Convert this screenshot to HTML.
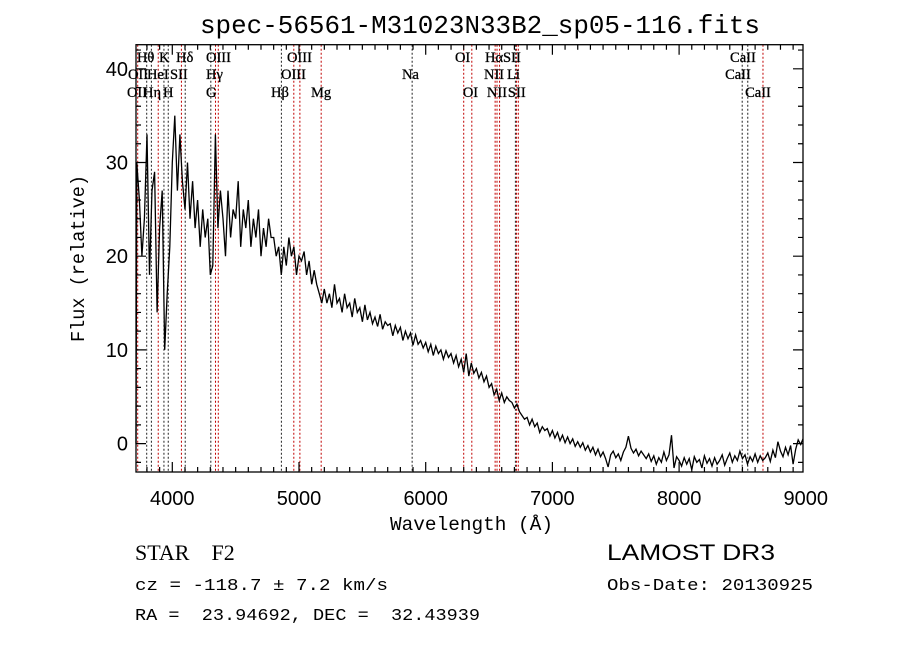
<!DOCTYPE html>
<html><head><meta charset="utf-8"><style>
body{margin:0;background:#fff;}
svg{display:block;}
text{white-space:pre;}
</style></head><body>
<svg id="chart" width="900" height="649" viewBox="0 0 900 649" xmlns="http://www.w3.org/2000/svg">
<rect width="900" height="649" fill="#fff"/>
<text x="200" y="33" textLength="560" lengthAdjust="spacingAndGlyphs" font-family="Liberation Mono, monospace" font-size="26">spec-56561-M31023N33B2_sp05-116.fits</text>
<g id="lines"></g>
<g id="spec"></g>
<g id="axes"></g>
<g id="labels" font-family="Liberation Serif, serif" font-size="14.5" stroke="#000" stroke-width="0.3"></g>
<text x="390" y="530" textLength="163" lengthAdjust="spacingAndGlyphs" font-family="Liberation Mono, monospace" font-size="19">Wavelength (Å)</text>
<text transform="translate(84,342) rotate(-90)" textLength="167" lengthAdjust="spacingAndGlyphs" font-family="Liberation Mono, monospace" font-size="19">Flux (relative)</text>
<text x="135" y="560" font-family="Liberation Serif, serif" font-size="22">STAR    F2</text>
<text x="135" y="590" textLength="253" lengthAdjust="spacingAndGlyphs" font-family="Liberation Mono, monospace" font-size="17">cz = -118.7 ± 7.2 km/s</text>
<text x="135" y="620" textLength="345" lengthAdjust="spacingAndGlyphs" font-family="Liberation Mono, monospace" font-size="17">RA =  23.94692, DEC =  32.43939</text>
<text x="607" y="560" textLength="168" lengthAdjust="spacingAndGlyphs" font-family="Liberation Sans, sans-serif" font-size="22">LAMOST DR3</text>
<text x="607" y="590" textLength="206" lengthAdjust="spacingAndGlyphs" font-family="Liberation Mono, monospace" font-size="17">Obs-Date: 20130925</text>
</svg>
<script>
const startWave = 3700;
const stepWave = 20;
const flux = [0,30,26,20,24,33,18,27,29,14,23,27,10,16,21,
30,35,27,33,28,25,30,24,28,23,26,21,25,22,24,18,19,33,23,27,
24,20,27,22,25,24,28,21,25,23,26,21,24,22,25,20,23,21,24,22,
22,20,21,18,21,19,22,20,21,18,20,19.5,20.5,18,19.5,17,18.5,17,16,15,
16.5,15,16,14.5,17,15,15.5,14,16,14.5,15,13.5,15.5,14,14.5,13,14.8,13.2,14,12.8,
13.5,12.5,13.8,12.2,13,12.6,12.8,11.5,12.6,11.8,12.4,11,12,11.2,11.8,10.5,11.6,10.6,11,10.2,
10.8,9.8,10.6,9.4,10.4,9.6,10,9,9.9,9.2,9.6,8.6,9.4,8.2,9,7.6,9.6,7.2,8.6,7.5,
8,7,7.6,6.6,7.2,6,6.4,5.2,5.8,4.6,5.4,4.4,5,4.6,4.4,3.8,4.2,3.4,3,2.6,
2.8,2,2.6,1.8,2.2,1.2,1.8,1.4,1.6,0.8,1.4,0.6,1.2,0.3,0.9,0.1,0.7,0,0.5,-0.3,
0.2,-0.4,0.1,-0.7,-0.2,-0.9,-0.4,-1.2,-0.6,-1.4,-0.9,-1.6,-2.5,-1.2,-0.8,-1.5,-1.1,-1.8,-0.9,-0.4,
0.8,-0.5,-1.0,-0.6,-1.3,-0.8,-1.2,-1.6,-1.1,-1.9,-1.3,-2.2,-1.5,-2.0,-0.9,-1.8,-1.2,0.9,-2.6,-1.4,
-1.8,-2.4,-1.5,-2.2,-1.6,-2.8,-1.4,-2.0,-1.7,-2.6,-1.3,-2.1,-1.6,-2.4,-1.5,-2.2,-1.8,-1.2,-2.3,-1.6,
-1.0,-2.0,-1.3,-1.8,-0.8,-1.6,-1.2,-2.2,-1.4,-1.9,-1.1,-2.0,-1.3,-1.8,-1.5,-1.0,-1.9,-0.7,-1.5,0.2,
-0.8,-1.4,-0.4,-1.2,-0.2,-2.2,-0.6,0.4,-0.1,0.5];
const lineWaves = [3727,3798,3835,3889,3934,3968,4072,4102,4304,4341,4363,4861,4959,5007,5175,5893,6300,6364,6548,6563,6583,6708,6717,6731,8498,8542,8662];
const lineRed = [1,0,0,1,0,0,1,0,0,1,1,0,1,1,1,0,1,1,1,1,1,0,1,1,0,0,1];
const labelText = ["Hθ","K","Hδ","OIII","OIII","OI","HαSII","CaII","OII","HeI","SII","Hγ","OIII","Na","NII","Li","CaII","OII","Hη","H","G","Hβ","Mg","OI","NII","SII","CaII"];
const labelWave = [3721,3895,4029,4266,4905,6231,6468,8402,3650,3800,3982,4266,4858,5813,6460,6642,8363,3642,3769,3927,4266,4779,5095,6293,6483,6649,8521];
const labelRow = [0,0,0,0,0,0,0,0,1,1,1,1,1,1,1,1,1,2,2,2,2,2,2,2,2,2,2];
const xTicks = [4000,5000,6000,7000,8000,9000];
const yTicks = [0,10,20,30,40];

const L=136,R=803,T=44.7,B=472;
const X = w => 172.3 + (w-4000)*0.1267;
const Y = f => 443.6 - f*9.37;
const NS='http://www.w3.org/2000/svg';
function mk(tag,parent){const e=document.createElementNS(NS,tag);parent.appendChild(e);return e;}

const lg=document.getElementById('lines');
lineWaves.forEach((w,i)=>{
  const l=mk('line',lg);
  
  
  l.setAttribute('x1',X(w));l.setAttribute('x2',X(w));
  l.setAttribute('y1',T);l.setAttribute('y2',B);
  l.setAttribute('stroke',lineRed[i]?'#c00000':'#222');
  l.setAttribute('stroke-width','1');
  l.setAttribute('stroke-dasharray','2,2');
});

const sg=document.getElementById('spec');
let d='';
flux.forEach((f,i)=>{
  const x=Math.max(L,Math.min(R,X(startWave+i*stepWave)));
  const y=Math.max(T,Math.min(B,Y(f)));
  d+=(i?'L':'M')+x.toFixed(1)+','+y.toFixed(1);
});
const p=mk('path',sg);


p.setAttribute('d',d);p.setAttribute('fill','none');p.setAttribute('stroke','#000');p.setAttribute('stroke-width','1.3');

const ag=document.getElementById('axes');
const box=mk('rect',ag);


box.setAttribute('x',L);box.setAttribute('y',T);box.setAttribute('width',R-L);box.setAttribute('height',B-T);
box.setAttribute('fill','none');box.setAttribute('stroke','#000');box.setAttribute('stroke-width','1.3');
let td='';
for(let w=3800;w<=8900;w+=100){const x=X(w);const len=(w%1000===0)?10:5;td+=`M${x},${B}v${-len}M${x},${T}v${len}`;}
for(let f=-2;f<=42;f+=2){const y=Y(f);if(y<T||y>B)continue;const len=(f%10===0)?10:5;td+=`M${L},${y}h${len}M${R},${y}h${-len}`;}
const tk=mk('path',ag);


tk.setAttribute('d',td);tk.setAttribute('stroke','#000');tk.setAttribute('stroke-width','1.2');
xTicks.forEach(w=>{
  const t=mk('text',ag);
  
  
  t.setAttribute('x',X(w));t.setAttribute('y',505);t.setAttribute('text-anchor','middle');
  t.setAttribute('font-family','Liberation Sans, sans-serif');t.setAttribute('font-size','20');
  t.textContent=w;
});
yTicks.forEach(f=>{
  const t=mk('text',ag);
  
  
  t.setAttribute('x',128);t.setAttribute('y',Y(f)+7);t.setAttribute('text-anchor','end');
  t.setAttribute('font-family','Liberation Sans, sans-serif');t.setAttribute('font-size','20');
  t.textContent=f;
});

const lbg=document.getElementById('labels');
const rowY=[62,79,97];
labelText.forEach((s,i)=>{
  const t=mk('text',lbg);
  
  
  t.setAttribute('x',X(labelWave[i]));t.setAttribute('y',rowY[labelRow[i]]);
  t.textContent=s;
});
</script>
</body></html>
